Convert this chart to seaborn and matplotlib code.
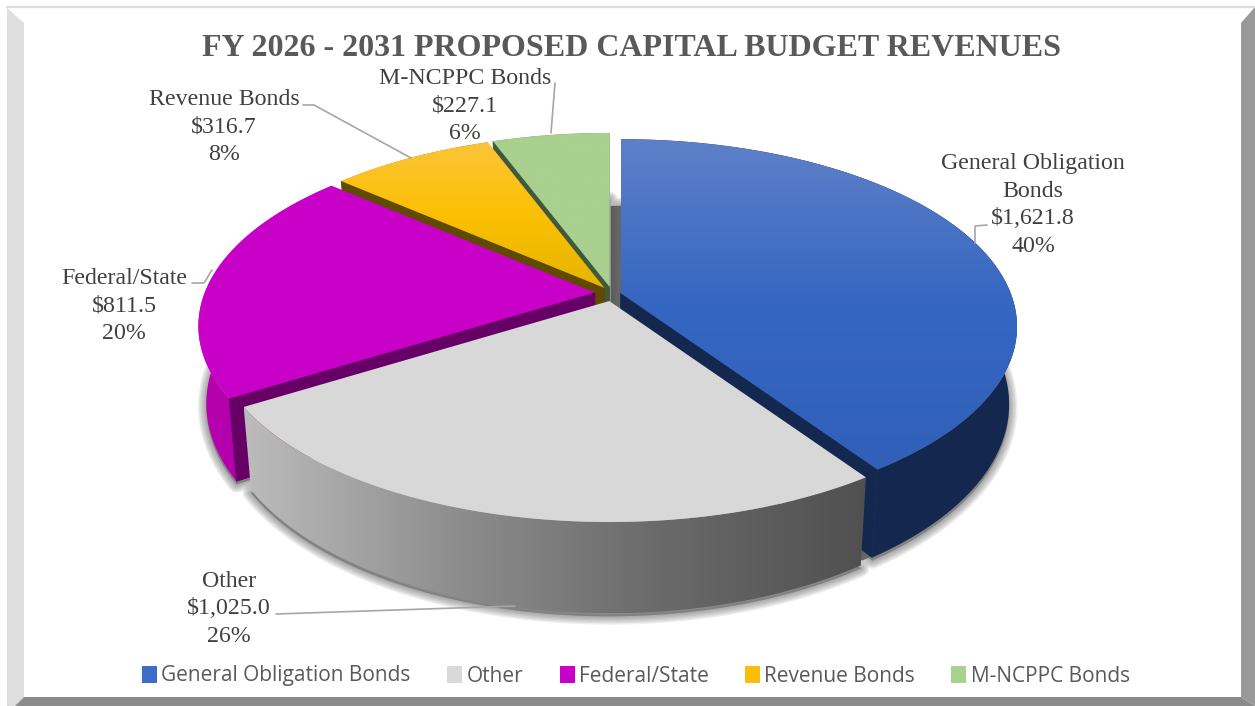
import numpy as np
import pandas as pd
import matplotlib
matplotlib.use("Agg")
import matplotlib.pyplot as plt
import seaborn as sns
from matplotlib.patches import Patch, Polygon
from matplotlib.colors import LinearSegmentedColormap

# Chart values ($ millions)
categories = ['General Obligation Bonds', 'Other', 'Federal/State', 'Revenue Bonds', 'M-NCPPC Bonds']
amounts = [1621.8, 1025.0, 811.5, 316.7, 227.1]
percents = [40, 26, 20, 8, 6]
label_names = ['General Obligation\nBonds', 'Other', 'Federal/State', 'Revenue Bonds', 'M-NCPPC Bonds']
title = 'FY 2026 - 2031 PROPOSED CAPITAL BUDGET REVENUES'

# Styles, one entry per category
palette = sns.color_palette(['#3f6cc4', '#d9d9d9', '#c800c8', '#fbbc0a', '#a9d18e'])
top_grad = [['#5e80c8', '#3566c2', '#3060b8'], ['#d8d8d8', '#d8d8d8'], ['#c800c8', '#c800c8'],
            ['#fcc33a', '#fbc002', '#e8b400'], ['#a9d08e', '#a9d08e']]
rim_grad = [['#14284f', '#14284f'], ['#bcbcbc', '#8e8e8e', '#6a6a6a', '#505050'], ['#b800b0', '#a800a0'],
            ['#a88000', '#a88000'], ['#6a8a58', '#6a8a58']]
wall_color = ['#14284f', '#777777', '#660066', '#5f4a00', '#41593a']

# Layout in picture pixels
CX, CY = 608, 293
RX, RY = 390, 181.5
TILT = 0.1786
DEPTH = 75
SHRINK = 0.98
EXPLODE = 0.034
nudge = [(0, 2), (4, 2), (0, 0), (4, 0), (4, 0)]
label_pos = [(1033, 205), (229, 609), (124, 306), (224, 127), (465, 106)]
leaders = [[(975, 243), (975, 226), (987, 225)], [(276, 614), (515, 606)],
           [(192, 283), (204, 283), (212, 270)], [(303, 105), (314, 105), (411, 158)],
           [(555, 83), (551, 133)]]

sns.set_theme(style='white')
plt.rcParams['font.family'] = ['Liberation Serif', 'DejaVu Sans']

df = pd.DataFrame({'category': categories, 'amount': amounts, 'pct': percents, 'label': label_names})
df['sweep'] = df['amount'] / df['amount'].sum() * 360
df['end'] = df['sweep'].cumsum()
df['start'] = df['end'] - df['sweep']


def project(u, v, ox, oy, depth=0.0):
    # plane coordinates to picture pixels, with a little perspective
    w = 1 - TILT * v
    x = ox + RX * u / w
    y = oy + RY * v / w
    if depth:
        x = ox + (x - ox) * SHRINK
        y = y + depth / w
    return x, y


def rim(start, end, ox, oy, depth=0.0):
    t = np.radians(np.linspace(start, end, 120))
    return project(np.sin(t), -np.cos(t), ox, oy, depth)


def gradient_fill(ax, xs, ys, colors, horizontal, zorder):
    pts = np.column_stack([xs, ys])
    poly = Polygon(pts, closed=True, fc='none', ec='none', zorder=zorder)
    ax.add_patch(poly)
    ramp = np.linspace(0, 1, 256)
    ramp = ramp[None, :] if horizontal else ramp[:, None]
    cmap = LinearSegmentedColormap.from_list('g', colors)
    im = ax.imshow(ramp, cmap=cmap, vmin=0, vmax=1, aspect='auto', zorder=zorder, interpolation='bilinear',
                   extent=(xs.min(), xs.max(), ys.max(), ys.min()))
    im.set_clip_path(poly)


fig = plt.figure(figsize=(12.55, 7.06), dpi=100, facecolor='white')
ax = fig.add_axes([0, 0, 1, 1])
ax.set_axis_off()

# bevelled frame
ax.add_patch(Polygon([(7, 8), (24, 23), (24, 697), (15, 706), (7, 706)], fc='#dedede', ec='none', zorder=1))
ax.add_patch(Polygon([(1255, 7), (1241, 23), (1241, 697), (1255, 706)], fc='#999999', ec='none', zorder=1))
ax.add_patch(Polygon([(15, 706), (24, 697), (1241, 697), (1255, 706)], fc='#8c8c8c', ec='none', zorder=1))
ax.plot([7, 1255], [7, 7], color='#dcdcdc', lw=1.6, zorder=1)

z = 2
geom = []
for i, row in df.iterrows():
    mid = np.radians((row['start'] + row['end']) / 2)
    ox = CX + np.sin(mid) * EXPLODE * RX + nudge[i][0]
    oy = CY - np.cos(mid) * EXPLODE * RY + nudge[i][1]
    geom.append((ox, oy))
    # soft shadow under every slice, drawn before any slice
    bx, by = rim(row['start'], row['end'], ox, oy, DEPTH)
    shadow = np.column_stack([np.r_[ox, bx], np.r_[oy + DEPTH, by]]) + [0, 3]
    for lw in [12, 10, 8, 6, 4, 2]:
        ax.add_patch(Polygon(shadow, fc='#555555', ec='#555555', lw=lw, alpha=0.1, joinstyle='round', zorder=z))
    if i == 0:
        # darker strip left of the first slice
        ax.add_patch(Polygon(shadow + [-10, 0], fc='#666666', ec='none', zorder=z))

# back slices first, the front slice last
for i in [4, 3, 2, 0, 1]:
    row = df.iloc[i]
    ox, oy = geom[i]
    s, e = row['start'], row['end']
    z += 1
    # outer wall
    tx, ty = rim(s, e, ox, oy)
    bx, by = rim(s, e, ox, oy, DEPTH)
    gradient_fill(ax, np.r_[tx, bx[::-1]], np.r_[ty, by[::-1]], rim_grad[i], True, z)
    # cut faces that look toward the viewer
    for a, seen in [(s, -np.sin(np.radians(s)) > 1e-6), (e, np.sin(np.radians(e)) > 1e-6)]:
        if seen:
            z += 1
            rx0, ry0 = rim(a, a, ox, oy)
            rx1, ry1 = rim(a, a, ox, oy, DEPTH)
            ax.add_patch(Polygon([(ox, oy), (rx0[0], ry0[0]), (rx1[0], ry1[0]), (ox, oy + DEPTH)],
                                 fc=wall_color[i], ec=wall_color[i], lw=0.6, zorder=z))
    # top face
    z += 1
    gradient_fill(ax, np.r_[ox, tx], np.r_[oy, ty], top_grad[i], False, z)

z += 1
for i, row in df.iterrows():
    text = '{}\n${:,.1f}\n{}%'.format(row['label'], row['amount'], row['pct'])
    ax.text(label_pos[i][0], label_pos[i][1], text, ha='center', va='center', fontsize=17.2, color='#404040',
            linespacing=1.41, zorder=z)
    lx, ly = zip(*leaders[i])
    ax.plot(lx, ly, color='#a6a6a6', lw=1.2, zorder=z)

ax.text(632, 49, title, ha='center', va='center', fontsize=23, fontweight='bold', color='#595959', zorder=z)

handles = [Patch(fc=c, ec='none') for c in palette]
ax.legend(handles, categories, loc='center', bbox_to_anchor=(636 / 1255, 1 - 676 / 706), ncol=5, frameon=False,
          handlelength=0.72, handleheight=0.85, handletextpad=0.2, columnspacing=1.75,
          prop={'family': 'Open Sans', 'size': 15}, labelcolor='#595959')

ax.set_xlim(0, 1255)
ax.set_ylim(706, 0)
fig.savefig('out.png', dpi=100, facecolor='white')
